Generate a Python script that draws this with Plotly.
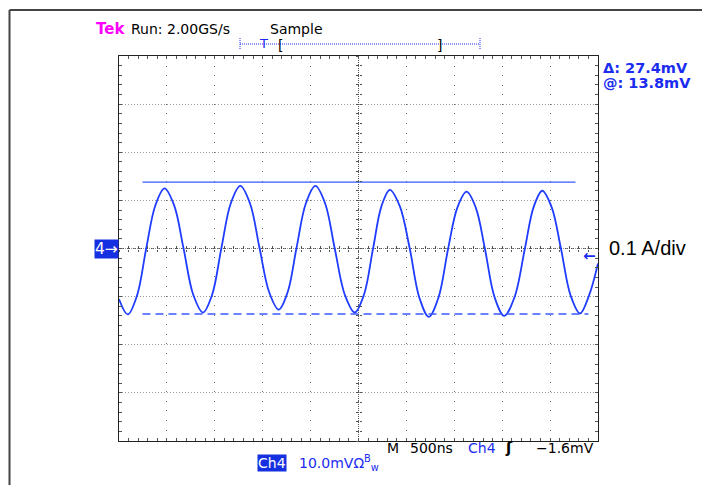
import plotly.graph_objects as go

# ---- data (time in ns, Ch4 in mV) ----
t_ns = [0, 92, 188, 284, 380, 475, 575, 674, 775, 876, 972, 1068, 1167, 1266,
        1367, 1468, 1568, 1667, 1760, 1852, 1951, 2050, 2151, 2252, 2357, 2461,
        2557, 2652, 2740, 2827, 2931, 3035, 3135, 3234, 3335, 3436, 3532, 3628,
        3724, 3819, 3920, 4021, 4129, 4237, 4328, 4418, 4516, 4613, 4713, 4812,
        4906, 5000]
v_mV = [-10.5, -13.7, -9.8, 0, 9.0, 12.5, 9.0, 0, -9.6, -13.3, -9.6, 0, 9.4, 13.0,
        9.4, 0, -9.1, -12.7, -9.1, 0, 9.4, 13.0, 9.4, 0, -9.6, -13.3,
        -9.6, 0, 8.8, 12.2, 8.8, 0, -10.2, -14.2, -10.2, 0, 8.5, 11.8,
        8.5, 0, -10.1, -14.0, -10.1, 0, 8.6, 12.0, 8.6, 0, -9.7, -13.5,
        -9.8, -3.1]

cursor_levels = [13.8, -13.6]          # mV
cursor_start = [245, 245]              # ns
cursor_end = [4765, 4900]              # ns
cursor_dash = ["solid", "8px,5px"]

trigger_level = -1.6                   # mV

# ---- geometry helpers (pixels -> paper) ----
W, H = 702, 485
L, R, T, B = 119, 104, 56, 44
PW, PH = W - L - R, H - T - B


def px(x):
    return (x - L) / PW


def py(y):
    return (H - B - y) / PH


BLUE = "#1a2cf0"
TRACE = "#1f3dff"
CUR = "#3a5aff"
FONT = "DejaVu Sans"

fig = go.Figure()

fig.add_trace(go.Scatter(x=t_ns, y=v_mV, mode="lines",
                         line=dict(color=TRACE, width=1.8, shape="spline", smoothing=1.0),
                         hoverinfo="skip", showlegend=False))

for lvl, s, e, d in zip(cursor_levels, cursor_start, cursor_end, cursor_dash):
    fig.add_trace(go.Scatter(x=[s, e], y=[lvl, lvl], mode="lines",
                             line=dict(color=CUR, width=1.4, dash=d),
                             hoverinfo="skip", showlegend=False))

# dummy traces so the crosshair tick axes are drawn
for xa, ya in [("x2", "y"), ("x3", "y"), ("x", "y2"), ("x", "y3")]:
    fig.add_trace(go.Scatter(x=[None], y=[None], xaxis=xa, yaxis=ya,
                             showlegend=False, hoverinfo="skip"))

common_x = dict(range=[0, 5000], showticklabels=False, zeroline=False, fixedrange=True)
common_y = dict(range=[-40, 40], showticklabels=False, zeroline=False, fixedrange=True)

fig.update_layout(
    width=W, height=H,
    margin=dict(l=L, r=R, t=T, b=B),
    paper_bgcolor="white", plot_bgcolor="white",
    xaxis=dict(**common_x, dtick=500, tick0=0, showgrid=True, gridcolor="#6a6a6a",
               griddash="1px,8.58px", gridwidth=1,
               ticks="inside", ticklen=3, tickcolor="#555", tickwidth=1,
               showline=True, linecolor="#222", linewidth=1.2, mirror="allticks",
               minor=dict(dtick=100, tick0=0, ticks="inside", ticklen=3,
                          tickcolor="#555", showgrid=False)),
    yaxis=dict(**common_y, dtick=10, tick0=0, showgrid=True, gridcolor="#9a9a9a",
               griddash="1px,2px", gridwidth=1,
               ticks="inside", ticklen=3, tickcolor="#555", tickwidth=1,
               showline=True, linecolor="#222", linewidth=1.2, mirror="allticks",
               minor=dict(dtick=2, tick0=0, ticks="inside", ticklen=3,
                          tickcolor="#555", showgrid=False)),
    xaxis2=dict(**common_x, overlaying="x", anchor="free", position=0.5, dtick=100,
                ticks="outside", ticklen=2.5, tickcolor="#555", showgrid=False, showline=False),
    xaxis3=dict(**common_x, overlaying="x", anchor="free", position=0.5, dtick=100,
                ticks="inside", ticklen=2.5, tickcolor="#555", showgrid=False, showline=False),
    yaxis2=dict(**common_y, overlaying="y", anchor="free", position=0.5, dtick=2,
                ticks="outside", ticklen=2.5, tickcolor="#555", showgrid=False, showline=False),
    yaxis3=dict(**common_y, overlaying="y", anchor="free", position=0.5, dtick=2,
                ticks="inside", ticklen=2.5, tickcolor="#555", showgrid=False, showline=False),
)

shapes = [
    # centre crosshair
    dict(type="line", xref="x", yref="y", x0=0, x1=5000, y0=0, y1=0,
         line=dict(color="#555", width=1, dash="1px,1px"), layer="below"),
    dict(type="line", xref="x", yref="y", x0=2500, x1=2500, y0=-40, y1=40,
         line=dict(color="#555", width=1, dash="1px,1px"), layer="below"),
    # page frame
    dict(type="line", xref="paper", yref="paper", x0=px(9.5), x1=px(9.5), y0=py(10), y1=py(490),
         line=dict(color="#444", width=2)),
    dict(type="line", xref="paper", yref="paper", x0=px(9.5), x1=px(710), y0=py(10), y1=py(10),
         line=dict(color="#444", width=2)),
    # record / trigger position bar
    dict(type="line", xref="paper", yref="paper", x0=px(240), x1=px(480), y0=py(44), y1=py(44),
         line=dict(color=BLUE, width=1, dash="1px,1px")),
    dict(type="line", xref="paper", yref="paper", x0=px(240), x1=px(240), y0=py(38), y1=py(50),
         line=dict(color=BLUE, width=1, dash="1px,1px")),
    dict(type="line", xref="paper", yref="paper", x0=px(480), x1=px(480), y0=py(38), y1=py(50),
         line=dict(color=BLUE, width=1, dash="1px,1px")),
]
fig.update_layout(shapes=shapes)


def ann(text, x, y, size=14, color="black", anchor="left", family=FONT, **kw):
    fig.add_annotation(text=text, x=px(x), y=py(y), xref="paper", yref="paper",
                       xanchor=anchor, yanchor="middle", showarrow=False,
                       font=dict(family=family, size=size, color=color), **kw)


ann("<b>Tek</b>", 94, 29.5, size=15, color="#ff00ff")
ann("Run: 2.00GS/s", 129, 29.5, size=14)
ann("Sample", 268, 29.5, size=14)
ann("T", 263, 43.5, size=13, color=BLUE, anchor="center")
ann("[", 280, 44.5, size=14, anchor="center")
ann("]", 439, 44.5, size=14, anchor="center")

ann("<b>Δ: 27.4mV</b>", 601, 68.5, size=14.5, color=BLUE)
ann("<b>@: 13.8mV</b>", 601, 82.8, size=14.5, color=BLUE)

ann("0.1 A/div", 607, 248, size=20, family="Liberation Sans, Arial")

ann("4→", 119, 249, size=15.5, color="white", anchor="right", bgcolor="#1530e0", borderpad=0)
fig.add_annotation(text="<b>←</b>", x=5000, y=trigger_level, xref="x", yref="y",
                   xanchor="right", yanchor="middle", showarrow=False,
                   font=dict(family=FONT, size=15, color=BLUE))

ann("M", 385, 448, size=14)
ann("500ns", 408, 448, size=14)
ann("Ch4", 466, 448, size=14, color=BLUE)
ann("<b>ʃ</b>", 503, 448, size=15)
ann("−1.6mV", 534, 448, size=14)

ann("Ch4", 256.5, 462.5, size=14, color="white", bgcolor="#1530e0", borderpad=0)
ann("10.0mVΩ<sup>B</sup><sub>w</sub>", 297, 462.5, size=14, color=BLUE)

fig.write_html("out.html", config={"displayModeBar": False},
               post_script="document.body.style.margin='0px';document.body.style.overflow='hidden';")
